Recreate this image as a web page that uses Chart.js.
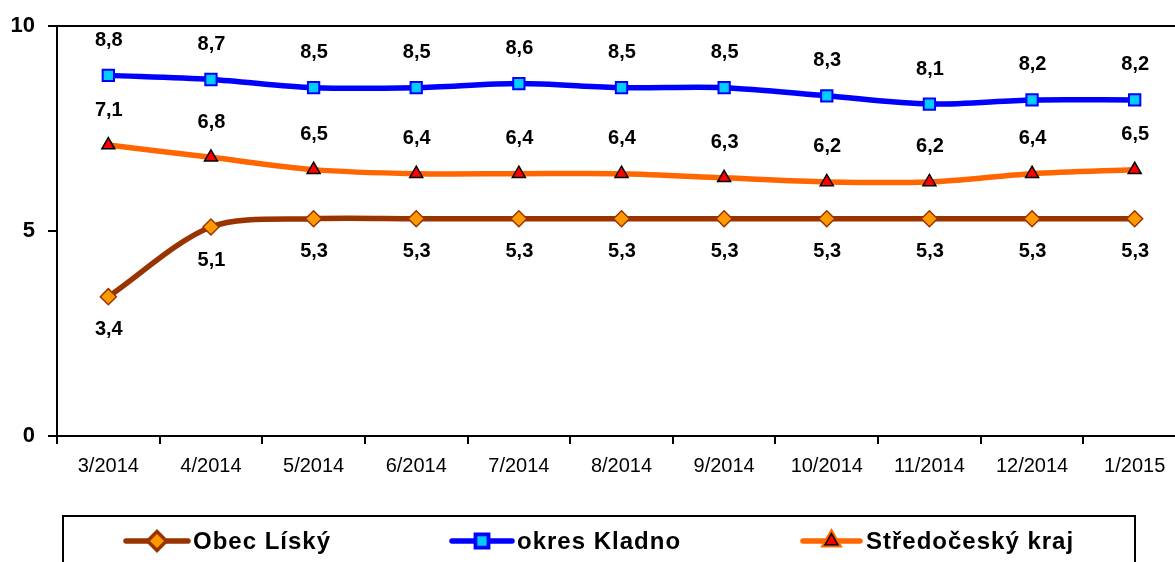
<!DOCTYPE html>
<html>
<head>
<meta charset="utf-8">
<script src="https://cdn.jsdelivr.net/npm/chart.js@4"></script>
<style>
  html, body { margin: 0; padding: 0; background: #fff; overflow: hidden; }
  #wrap { width: 1200px; height: 562px; }
</style>
</head>
<body>
<div id="wrap"><canvas id="myChart" width="1200" height="562"></canvas></div>
<script>
const months = ['3/2014', '4/2014', '5/2014', '6/2014', '7/2014', '8/2014', '9/2014', '10/2014', '11/2014', '12/2014', '1/2015'];
const obecLisky = [3.4, 5.1, 5.3, 5.3, 5.3, 5.3, 5.3, 5.3, 5.3, 5.3, 5.3];
const okresKladno = [8.8, 8.7, 8.5, 8.5, 8.6, 8.5, 8.5, 8.3, 8.1, 8.2, 8.2];
const stredocesky = [7.1, 6.8, 6.5, 6.4, 6.4, 6.4, 6.3, 6.2, 6.2, 6.4, 6.5];
const yTicks = [0, 5, 10];

const FONT = '"Liberation Sans", Arial, sans-serif';

// value labels above / below points
const valueLabels = {
    id: 'valueLabels',
    afterDatasetsDraw(chart) {
        const ctx = chart.ctx;
        ctx.save();
        ctx.font = 'bold 20px ' + FONT;
        ctx.fillStyle = '#000';
        ctx.textAlign = 'center';
        ctx.textBaseline = 'middle';
        chart.data.datasets.forEach((ds, i) => {
            const meta = chart.getDatasetMeta(i);
            meta.data.forEach((pt, j) => {
                const txt = ds.data[j].toFixed(1).replace('.', ',');
                ctx.fillText(txt, pt.x + 0.5, pt.y + ds.labelOffset);
            });
        });
        ctx.restore();
    }
};

// boxed legend at the bottom, like the Excel original
const boxLegend = {
    id: 'boxLegend',
    afterDraw(chart) {
        const ctx = chart.ctx;
        const top = 516, left = 63, right = 1135;
        ctx.save();
        ctx.strokeStyle = '#000';
        ctx.lineWidth = 2;
        ctx.strokeRect(left, top, right - left, 80);
        const items = [
            { ds: 0, x0: 126, x1: 188, tx: 193 },
            { ds: 1, x0: 452, x1: 512, tx: 517 },
            { ds: 2, x0: 803, x1: 860, tx: 866 }
        ];
        const y = 541;
        items.forEach(it => {
            const ds = chart.data.datasets[it.ds];
            ctx.strokeStyle = ds.borderColor;
            ctx.lineWidth = ds.borderWidth;
            ctx.lineCap = 'round';
            ctx.beginPath();
            ctx.moveTo(it.x0, y);
            ctx.lineTo(it.x1, y);
            ctx.stroke();
            Chart.helpers.drawPoint(ctx, {
                pointStyle: ds.pointStyle,
                radius: ds.pointRadius,
                borderWidth: ds.pointBorderWidth,
                rotation: 0
            }, (it.x0 + it.x1) / 2, y);
            ctx.fillStyle = ds.pointBackgroundColor;
            ctx.strokeStyle = ds.pointBorderColor;
            ctx.lineWidth = ds.pointBorderWidth;
            ctx.fill();
            ctx.stroke();
            ctx.fillStyle = '#000';
            ctx.font = 'bold 24px ' + FONT;
            ctx.letterSpacing = '1px';
            ctx.textAlign = 'left';
            ctx.textBaseline = 'middle';
            ctx.fillText(ds.label, it.tx, y + 1);
        });
        ctx.restore();
    }
};

const data = {
    labels: months,
    datasets: [{
        label: 'Obec Líský',
        data: obecLisky,
        borderColor: '#993300',
        borderWidth: 5.5,
        pointStyle: 'rectRot',
        pointRadius: 8,
        pointBackgroundColor: '#FF9900',
        pointBorderColor: '#993300',
        pointBorderWidth: 1.5,
        tension: 0.3,
        labelOffset: 33
    }, {
        label: 'okres Kladno',
        data: okresKladno,
        borderColor: '#0000FF',
        borderWidth: 5.5,
        pointStyle: 'rect',
        pointRadius: 8,
        pointBackgroundColor: '#00CCFF',
        pointBorderColor: '#0000FF',
        pointBorderWidth: 2,
        tension: 0.3,
        labelOffset: -35
    }, {
        label: 'Středočeský kraj',
        data: stredocesky,
        borderColor: '#FF6600',
        borderWidth: 5.5,
        pointStyle: 'triangle',
        pointRadius: 7.5,
        pointBackgroundColor: '#FF0000',
        pointBorderColor: '#000000',
        pointBorderWidth: 1.5,
        tension: 0.3,
        labelOffset: -35
    }]
};

const config = {
    type: 'line',
    data: data,
    options: {
        responsive: false,
        animation: false,
        layout: { padding: { top: 26, right: 14, bottom: 80, left: 0 } },
        plugins: {
            legend: { display: false },
            tooltip: { enabled: false }
        },
        scales: {
            x: {
                offset: true,
                grid: { offset: true, drawOnChartArea: false, color: '#000', lineWidth: 2, tickLength: 8 },
                border: { color: '#000', width: 2 },
                ticks: { color: '#000', font: { family: FONT, size: 20 }, padding: 10, maxRotation: 0, autoSkip: false },
                afterFit: s => { s.height = 46; }
            },
            y: {
                min: 0,
                max: 10,
                afterBuildTicks: s => { s.ticks = yTicks.map(v => ({ value: v })); },
                grid: {
                    color: c => (c.tick && c.tick.value === 10 ? '#000' : 'rgba(0,0,0,0)'),
                    tickColor: '#000',
                    lineWidth: 2,
                    tickLength: 9
                },
                border: { color: '#000', width: 2 },
                ticks: { color: '#000', font: { family: FONT, size: 22, weight: 'bold' }, padding: 13 },
                afterFit: s => { s.width = 57; }
            }
        }
    },
    plugins: [valueLabels, boxLegend]
};

const ctx = document.getElementById('myChart').getContext('2d');
const myChart = new Chart(ctx, config);
</script>
</body>
</html>
